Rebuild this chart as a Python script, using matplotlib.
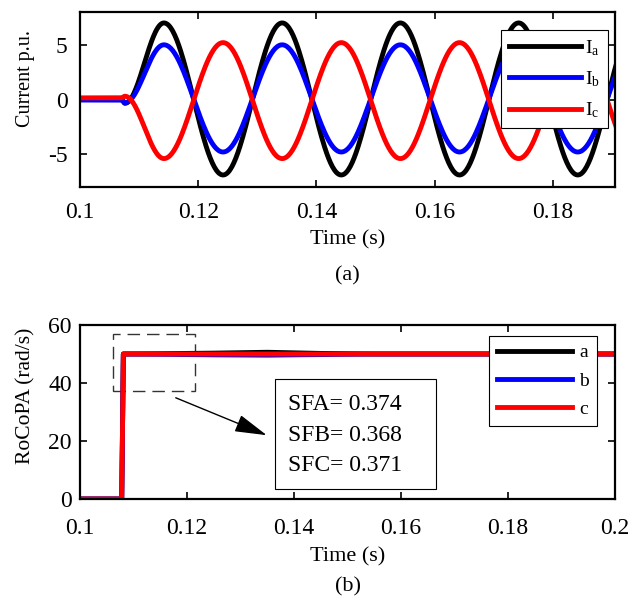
import numpy as np
import matplotlib
matplotlib.use('Agg')
import matplotlib.pyplot as plt
import matplotlib.patches as patches

plt.rcParams['font.family'] = ['Liberation Serif', 'DejaVu Serif']
plt.rcParams['mathtext.fontset'] = 'custom'
plt.rcParams['mathtext.rm'] = 'Liberation Serif'
plt.rcParams['mathtext.it'] = 'Liberation Serif:italic'

# --- (a) phase currents : extrema ---
t_ext = [0.100, 0.1070, 0.1076, 0.1142, 0.1242, 0.1342, 0.1442, 0.1542, 0.1642, 0.1742, 0.1842, 0.1942]
ia_ext = [0.05, 0.05, -0.35, 7.0, -6.9, 7.0, -6.9, 7.0, -6.9, 7.0, -6.9, 7.0]
ib_ext = [-0.05, -0.05, -0.30, 5.0, -4.8, 5.0, -4.8, 5.0, -4.8, 5.0, -4.8, 5.0]
ic_ext = [0.15, 0.15, 0.30, -5.4, 5.2, -5.4, 5.2, -5.4, 5.2, -5.4, 5.2, -5.4]
cur_labels = [r'I$_\mathrm{a}$', r'I$_\mathrm{b}$', r'I$_\mathrm{c}$']

# --- (b) RoCoPA ---
t_roc = [0.100, 0.1078, 0.1081, 0.115, 0.125, 0.135, 0.145, 0.155, 0.200]
roc_a = [0, 0, 50, 50.1, 50.3, 50.6, 50.2, 50.0, 50.0]
roc_b = [0, 0, 50, 49.9, 49.7, 49.6, 49.8, 50.0, 50.0]
roc_c = [0, 0, 50, 50.0, 50.0, 50.0, 50.0, 50.0, 50.0]
roc_labels = ['a', 'b', 'c']
sf_text = ['SFA= 0.374', 'SFB= 0.368', 'SFC= 0.371']

colors = ['black', 'blue', 'red']


def wave(tk, vk, n=60):
    # half-cosine segments between successive extrema
    ts, vs = [], []
    for i in range(len(tk) - 1):
        s = np.linspace(0, 1, n, endpoint=False)
        ts.append(tk[i] + (tk[i + 1] - tk[i]) * s)
        vs.append(vk[i] + (vk[i + 1] - vk[i]) * (1 - np.cos(np.pi * s)) / 2)
    ts.append([tk[-1]])
    vs.append([vk[-1]])
    return np.concatenate(ts), np.concatenate(vs)


fig = plt.figure(figsize=(6.4, 6.09), dpi=100)
W, H = 640., 609.
ax1 = fig.add_axes([80 / W, 1 - 187 / H, 535 / W, 175 / H])
ax2 = fig.add_axes([80 / W, 1 - 499 / H, 535 / W, 174 / H])

fs_tick = 17
fs_xlab = 16
fs_leg = 14

for vals, c, lab in zip([ia_ext, ib_ext, ic_ext], colors, cur_labels):
    t, v = wave(t_ext, vals)
    ax1.plot(t, v, color=c, lw=3.5, label=lab)
ax1.set_xlim(0.1, 0.1905)
ax1.set_ylim(-8, 8)
ax1.set_xticks([0.1, 0.12, 0.14, 0.16, 0.18])
ax1.set_xticklabels(['0.1', '0.12', '0.14', '0.16', '0.18'])
ax1.set_yticks([-5, 0, 5])
ax1.set_yticklabels(['-5', '0', '5'])
ax1.set_ylabel('Current p.u.', fontsize=14.5, va='center')
ax1.yaxis.set_label_coords(-0.101, 0.62)
ax1.set_xlabel('Time (s)', fontsize=fs_xlab, va='center')
ax1.xaxis.set_label_coords(0.5, -0.303)
ax1.text(0.5, -0.509, '(a)', transform=ax1.transAxes, fontsize=fs_xlab,
         ha='center', va='center')
leg1 = ax1.legend(loc='upper right', bbox_to_anchor=(0.987, 0.897), fontsize=fs_leg,
                  handlelength=3.75, fancybox=False, edgecolor='black', framealpha=1,
                  borderaxespad=0, labelspacing=0.6, handletextpad=0.2, borderpad=0.4)
leg1.get_frame().set_linewidth(0.8)

for vals, c, lab in zip([roc_a, roc_b, roc_c], colors, roc_labels):
    ax2.plot(t_roc, vals, color=c, lw=3.5, label=lab)
ax2.set_xlim(0.1, 0.2)
ax2.set_ylim(0, 60)
ax2.set_xticks([0.1, 0.12, 0.14, 0.16, 0.18, 0.2])
ax2.set_xticklabels(['0.1', '0.12', '0.14', '0.16', '0.18', '0.2'])
ax2.set_yticks([0, 20, 40, 60])
ax2.set_ylabel('RoCoPA (rad/s)', fontsize=15.5, va='center')
ax2.yaxis.set_label_coords(-0.101, 0.592)
ax2.set_xlabel('Time (s)', fontsize=fs_xlab, va='center')
ax2.xaxis.set_label_coords(0.5, -0.333)
ax2.text(0.5, -0.506, '(b)', transform=ax2.transAxes, fontsize=fs_xlab,
         ha='center', va='center')
leg2 = ax2.legend(loc='upper right', bbox_to_anchor=(0.966, 0.937), fontsize=fs_leg,
                  handlelength=3.85, fancybox=False, edgecolor='black', framealpha=1,
                  borderaxespad=0, labelspacing=0.55, handletextpad=0.4, borderpad=0.4)
leg2.get_frame().set_linewidth(0.8)

# zoom box, arrow and scale-factor text
ax2.add_patch(patches.Rectangle((0.1062, 37.2), 0.0153, 19.7, fill=False,
                                edgecolor='#333333', lw=1.0, ls=(0, (9, 5))))
ax2.annotate('', xy=(0.1349, 22), xytext=(0.1179, 34.9),
             arrowprops=dict(arrowstyle='-|>,head_length=2.0,head_width=0.55',
                             color='black', lw=1.0, shrinkA=0, shrinkB=0))
ax2.add_patch(patches.Rectangle((0.1364, 3.4), 0.0301, 37.9, fill=True, fc='white',
                                edgecolor='black', lw=0.8, zorder=4))
ax2.text(0.1389, 22.0, '\n'.join(sf_text), fontsize=fs_tick, va='center', ha='left',
         linespacing=1.58, zorder=5)

for ax in (ax1, ax2):
    ax.tick_params(direction='in', top=True, right=True, labelsize=fs_tick, length=5,
                   width=1.2)
    for s in ax.spines.values():
        s.set_linewidth(1.6)
ax1.tick_params(axis='x', pad=11)
ax1.tick_params(axis='y', pad=9)
ax2.tick_params(axis='x', pad=14)
ax2.tick_params(axis='y', pad=6)

fig.savefig('out.png', dpi=100)
